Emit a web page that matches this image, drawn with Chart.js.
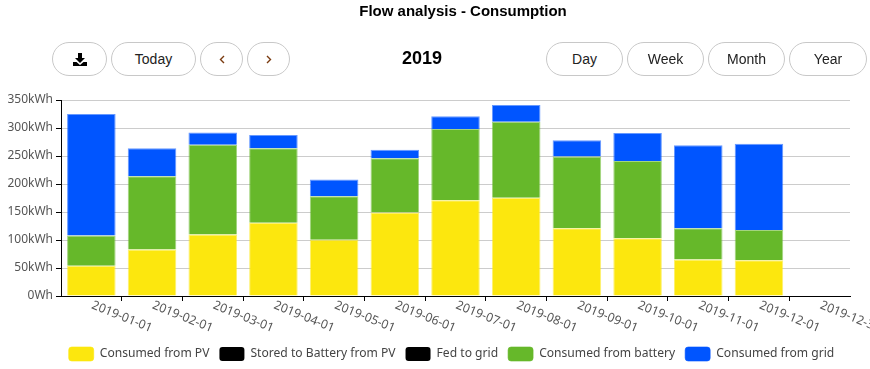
<!DOCTYPE html>
<html>
<head>
<meta charset="utf-8">
<title>Flow analysis - Consumption</title>
<script src="https://cdn.jsdelivr.net/npm/chart.js@4"></script>
<style>
    html, body { margin: 0; padding: 0; background: #fff; }
    body { position: relative; width: 870px; height: 369px; overflow: hidden; font-family: "Liberation Sans", Arial, sans-serif; }
    #ct { position: absolute; left: 0; top: 0; width: 870px; height: 369px; }
    h1 { position: absolute; left: 263px; width: 400px; top: 2px; margin: 0; font-size: 15px; line-height: 18px; text-align: center; color: #000; }
    h2 { position: absolute; left: 372px; width: 100px; top: 47px; margin: 0; font-size: 18px; line-height: 22px; text-align: center; color: #000; }
    button { position: absolute; top: 42px; height: 34px; box-sizing: border-box; padding: 0; background: #fff; border: 1px solid #c8c8c8; border-radius: 17px; font: 14px "Liberation Sans", Arial, sans-serif; color: #222; }
    button svg { display: block; margin: 0 auto; }
</style>
</head>
<body>
<div id="ct"><canvas id="flowChart" width="870" height="369"></canvas></div>
<h1>Flow analysis - Consumption</h1>
<h2>2019</h2>
<button style="left:52px;width:55px">
    <svg width="14" height="13" viewBox="0 0 14 13"><path fill="#000" d="M5 0h4v5h3L7 10 2 5h3zM0 9h3.5L7 12l3.500-3H14v4H0z"/></svg>
</button>
<button style="left:111px;width:85px">Today</button>
<button style="left:200px;width:43px">
    <svg width="6" height="9" viewBox="0 0 6 9"><path fill="none" stroke="#7a3b10" stroke-width="1.4" d="M5 1L1.500 4.500 5 8"/></svg>
</button>
<button style="left:247px;width:43px">
    <svg width="6" height="9" viewBox="0 0 6 9"><path fill="none" stroke="#7a3b10" stroke-width="1.4" d="M1 1l3.500 3.500L1 8"/></svg>
</button>
<button style="left:546px;width:77px">Day</button>
<button style="left:627px;width:77px">Week</button>
<button style="left:708px;width:77px">Month</button>
<button style="left:789px;width:78px">Year</button>
<script>
// Valores (kWh)
const tickLabels = ['2019-01-01', '2019-02-01', '2019-03-01', '2019-04-01', '2019-05-01', '2019-06-01',
    '2019-07-01', '2019-08-01', '2019-09-01', '2019-10-01', '2019-11-01', '2019-12-01', '2019-12-31'];
const yTicks = [0, 50, 100, 150, 200, 250, 300, 350];

const consumedFromPV = [54, 83, 110, 131, 100.5, 149, 171, 175.5, 121, 103, 65, 64];
const storedToBattery = [0, 0, 0, 0, 0, 0, 0, 0, 0, 0, 0, 0];
const fedToGrid = [0, 0, 0, 0, 0, 0, 0, 0, 0, 0, 0, 0];
const consumedFromBattery = [54, 131, 160, 133, 77.5, 97, 127, 135.5, 128, 138, 56, 54];
const consumedFromGrid = [217, 50, 22, 23.5, 30, 15, 23, 30, 29, 50, 148, 154];

function barSet(label, data, color, edge) {
    return {
        label: label, data: data, backgroundColor: color,
        borderColor: edge || color, borderWidth: edge ? 1 : 0,
        xAxisID: 'x', yAxisID: 'y'
    };
}

// Ajuste fino de la leyenda
const legendShift = {
    id: 'legendShift',
    afterLayout(chart) {
        chart.legend.left -= 4;
        chart.legend.right -= 4;
        chart.legend.top += 2;
        chart.legend.bottom += 2;
    }
};

new Chart(document.getElementById('flowChart').getContext('2d'), {
    type: 'bar',
    plugins: [legendShift],
    data: {
        datasets: [
            barSet('Consumed from PV', consumedFromPV, '#fce70e', 'rgba(252,231,14,0.6)'),
            barSet('Stored to Battery from PV', storedToBattery, '#000000'),
            barSet('Fed to grid', fedToGrid, '#000000'),
            barSet('Consumed from battery', consumedFromBattery, '#66b82a', 'rgba(102,184,42,0.6)'),
            barSet('Consumed from grid', consumedFromGrid, '#0055ff', 'rgba(0,85,255,0.6)')
        ]
    },
    options: {
        responsive: false,
        animation: false,
        layout: { padding: { top: 100, right: 20, left: 0, bottom: 0 } },
        datasets: { bar: { categoryPercentage: 1, barPercentage: 0.8 } },
        scales: {
            // escala de las barras, una banda por mes
            x: {
                display: false,
                stacked: true,
                labels: tickLabels
            },
            // escala visible, las etiquetas van en el borde derecho de cada banda
            xTicks: {
                axis: 'x',
                type: 'category',
                position: 'bottom',
                offset: false,
                labels: [''].concat(tickLabels),
                border: { color: '#000', display: true },
                grid: {
                    offset: false,
                    drawOnChartArea: false,
                    tickLength: 5,
                    // sin marca en los extremos del eje
                    tickColor: ctx => ((ctx.index === 0 || ctx.index === tickLabels.length) ? 'rgba(0,0,0,0)' : '#000')
                },
                ticks: {
                    autoSkip: false,
                    minRotation: -22,
                    maxRotation: -22,
                    padding: 21,
                    labelOffset: 30,
                    color: '#555',
                    font: { family: 'Noto Sans', size: 12.3 }
                },
                afterFit: scale => {
                    scale.height = 39;
                    scale.paddingLeft = 0;
                    scale.paddingRight = 0;
                }
            },
            y: {
                stacked: true,
                min: 0,
                max: 350,
                border: { color: '#000' },
                grid: { color: '#cccccc', tickColor: '#000', tickLength: 5 },
                ticks: {
                    stepSize: 50,
                    padding: 3,
                    color: '#555',
                    font: { family: 'Noto Sans', size: 12 },
                    callback: v => (yTicks.includes(v) ? v + (v === 0 ? 'Wh' : 'kWh') : '')
                },
                afterFit: scale => { scale.width = 61; }
            }
        },
        plugins: {
            title: { display: false },
            tooltip: { enabled: false },
            legend: {
                position: 'bottom',
                fullSize: false,
                labels: {
                    boxWidth: 25,
                    boxHeight: 14,
                    padding: 10,
                    useBorderRadius: true,
                    borderRadius: 3,
                    color: '#444',
                    font: { family: 'Noto Sans', size: 12.1 }
                }
            }
        }
    }
});
</script>
</body>
</html>
